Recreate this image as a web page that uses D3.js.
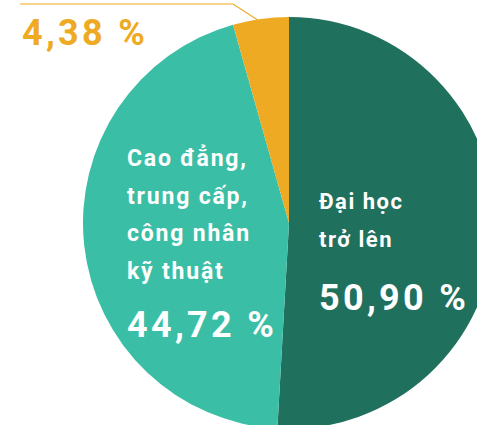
<!DOCTYPE html>
<html lang="vi">
<head>
    <meta charset="UTF-8">
    <title>Pie</title>
    <script src="https://d3js.org/d3.v7.min.js"></script>
    <style>
        body { margin: 0; background: #fff; }
        svg { display: block; }
        text { font-family: Roboto, "Noto Sans", sans-serif; font-weight: 700; }
    </style>
</head>
<body>
<svg id="chart" width="477" height="425"></svg>
<script>
    // Data
    const categories = ["Đại học trở lên", "Cao đẳng, trung cấp, công nhân kỹ thuật", "Khác"];
    const values = [50.90, 44.72, 4.38];
    const valueLabels = ["50,90 %", "44,72 %", "4,38 %"];
    const colors = ["#20705e", "#3abea5", "#eeaa22"];

    const width = 477, height = 425;
    const cx = 289, cy = 223, radius = 206;

    const svg = d3.select("#chart");
    const g = svg.append("g").attr("transform", `translate(${cx},${cy})`);

    const pie = d3.pie().sort(null).value(d => d);
    const arcs = pie(values);
    const arc = d3.arc().innerRadius(0).outerRadius(radius);

    g.selectAll("path")
        .data(arcs)
        .enter().append("path")
        .attr("d", arc)
        .attr("fill", (d, i) => colors[i]);

    // Leader line for the small slice
    const small = arcs[2];
    const mid = (small.startAngle + small.endAngle) / 2;
    const p0 = [Math.sin(mid) * radius, -Math.cos(mid) * radius];
    svg.append("polyline")
        .attr("points", [
            [cx + p0[0] - 3, cy + p0[1] + 1],
            [cx - 56, 4],
            [20, 4]
        ].map(p => p.join(",")).join(" "))
        .attr("fill", "none")
        .attr("stroke", colors[2])
        .attr("stroke-width", 1.2);

    const bigSize = 36, bigSpacing = 3.3;

    svg.append("text")
        .attr("x", 22).attr("y", 45)
        .attr("fill", colors[2])
        .attr("font-size", bigSize)
        .attr("letter-spacing", bigSpacing)
        .text(valueLabels[2]);

    // Cao đẳng label
    const tealLines = ["Cao đẳng,", "trung cấp,", "công nhân", "kỹ thuật"];
    svg.append("g").selectAll("text")
        .data(tealLines)
        .enter().append("text")
        .attr("x", 127)
        .attr("y", (d, i) => 166 + i * 37.5)
        .attr("fill", "#fff")
        .attr("font-size", 23)
        .attr("letter-spacing", 1.8)
        .text(d => d);
    svg.append("text")
        .attr("x", 127).attr("y", 337)
        .attr("fill", "#fff")
        .attr("font-size", bigSize)
        .attr("letter-spacing", bigSpacing)
        .text(valueLabels[1]);

    // Đại học label
    const darkLines = ["Đại học", "trở lên"];
    svg.append("g").selectAll("text")
        .data(darkLines)
        .enter().append("text")
        .attr("x", 319)
        .attr("y", (d, i) => 209 + i * 38)
        .attr("fill", "#fff")
        .attr("font-size", 22)
        .attr("letter-spacing", 1.5)
        .text(d => d);
    svg.append("text")
        .attr("x", 319).attr("y", 310)
        .attr("fill", "#fff")
        .attr("font-size", bigSize)
        .attr("letter-spacing", bigSpacing)
        .text(valueLabels[0]);
</script>
</body>
</html>
